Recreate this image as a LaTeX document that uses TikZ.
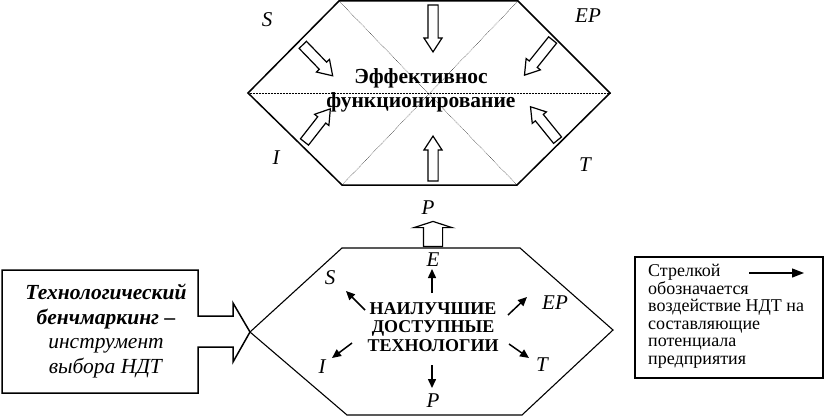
\documentclass[tikz,border=0pt]{standalone}
\usepackage{fontspec}
\setmainfont{Liberation Serif}
\usetikzlibrary{shapes.arrows,arrows.meta}
\begin{document}
\begin{tikzpicture}[x=1pt,y=-1pt,
  hex/.style={line width=1.5pt, line join=miter},
  thinhex/.style={line width=1.1pt, line join=miter},
  diag/.style={line width=0.5pt, densely dotted},
  harrow/.style={single arrow, draw, fill=white, line width=1.2pt, inner xsep=0pt, inner ysep=4.5pt,
    minimum width=17pt, single arrow head extend=4pt, single arrow tip angle=66, anchor=center},
  blockarrow/.style={single arrow, draw, fill=white, line width=1.2pt, inner xsep=0pt, inner ysep=9pt,
    minimum width=37pt, single arrow head extend=9.5pt, single arrow tip angle=144, anchor=center},
  sarrow/.style={line width=1.5pt, -{Triangle[length=9pt,width=8pt]}},
  lab/.style={font=\itshape\fontsize{21}{21}\selectfont, inner sep=0pt},
]
\useasboundingbox (0,0) rectangle (829,417);

% ---------- top hexagon ----------
\coordinate (tL) at (248,93);
\coordinate (tTL) at (339,1);
\coordinate (tTR) at (518,1);
\coordinate (tR) at (610,93);
\coordinate (tBR) at (517,185);
\coordinate (tBL) at (342,185);
\draw[diag] (tTL) -- (tBR);
\draw[diag] (tTR) -- (tBL);
\draw[diag] (tL) -- (tR);
\draw[hex] (tL) -- (tTL) -- (tTR) -- (tR) -- (tBR) -- (tBL) -- cycle;

\node[font=\bfseries\fontsize{21.5}{24}\selectfont, align=center, inner sep=0pt] (eff) at (421,90)
  {Эффективнос\\функционирование};

\node[harrow, minimum height=47pt, rotate=-90] (aTop) at (433,24.5) {};
\node[harrow, minimum height=45pt, rotate=90] (aBot) at (433,162.5) {};
\node[harrow, minimum height=43pt, rotate=-46] (aS) at (315,57.5) {};
\node[harrow, minimum height=42pt, rotate=52] (aI) at (315,128.5) {};
\node[harrow, minimum height=45pt, rotate=-128.7] (aEP) at (541,54.5) {};
\node[harrow, minimum height=43pt, rotate=129] (aT) at (546.5,126.5) {};

\node[lab] (tS) at (267,20) {S};
\node[lab] (tEP) at (588,16) {EP};
\node[lab] (tI) at (276,158) {I};
\node[lab] (tT) at (585,165) {T};

% ---------- bottom hexagon ----------
\coordinate (bL) at (250,332);
\coordinate (bTL) at (342,248);
\coordinate (bTR) at (520,248);
\coordinate (bR) at (613,330);
\coordinate (bBR) at (522,415);
\coordinate (bBL) at (347,415);
\draw[thinhex] (bL) -- (bTL) -- (bTR) -- (bR) -- (bBR) -- (bBL) -- cycle;

\node[blockarrow, minimum height=25pt, rotate=90] (aP) at (433,235.5) {};
\node[lab] (pTop) at (428,208) {P};

\node[font=\bfseries\fontsize{18}{18.5}\selectfont, align=center, inner sep=0pt] (ndt) at (433,327)
  {НАИЛУЧШИЕ\\ДОСТУПНЫЕ\\ТЕХНОЛОГИИ};

\node[lab] (bE) at (433,260) {E};
\node[lab] (bS) at (330,278) {S};
\node[lab] (bEP) at (555,303) {EP};
\node[lab] (bI) at (322,367) {I};
\node[lab] (bT) at (542,365) {T};
\node[lab] (bP) at (433,401) {P};

\coordinate (e0) at (432,293); \coordinate (e1) at (432,269);
\coordinate (s0) at (365,310); \coordinate (s1) at (346,291);
\coordinate (ep0) at (508,315); \coordinate (ep1) at (527,297);
\coordinate (i0) at (352,343); \coordinate (i1) at (332,358);
\coordinate (t0) at (509,344); \coordinate (t1) at (529,358);
\coordinate (p0) at (432,365); \coordinate (p1) at (432,388);
\draw[sarrow] (e0) -- (e1);
\draw[sarrow] (s0) -- (s1);
\draw[sarrow] (ep0) -- (ep1);
\draw[sarrow] (i0) -- (i1);
\draw[sarrow] (t0) -- (t1);
\draw[sarrow] (p0) -- (p1);

% ---------- left box with arrow ----------
\draw[hex] (2,270) -- (198,270) -- (198,316) -- (233,316) -- (233,303) -- (bL)
  -- (233,362) -- (233,347) -- (198,347) -- (198,393) -- (2,393) -- cycle;
\node[align=center, inner sep=0pt, font=\fontsize{21.5}{24.5}\selectfont] (bench) at (106,331)
  {\textbf{\textit{Технологический}}\\\textbf{\textit{бенчмаркинг –}}\\\textit{инструмент}\\\textit{выбора НДТ}};

% ---------- legend ----------
\node[draw, line width=1.5pt, minimum width=188pt, minimum height=121pt, inner sep=0pt] (legbox) at (729,317.5) {};
\node[align=left, anchor=north west, inner sep=0pt, font=\fontsize{18}{17.6}\selectfont] (legtext) at (648,264)
  {Стрелкой\\обозначается\\воздействие НДТ на\\составляющие\\потенциала\\предприятия};
\coordinate (lg0) at (749,273); \coordinate (lg1) at (804,273);
\draw[line width=1.3pt, -{Triangle[length=12pt,width=9pt]}] (lg0) -- (lg1);
\end{tikzpicture}
\end{document}
